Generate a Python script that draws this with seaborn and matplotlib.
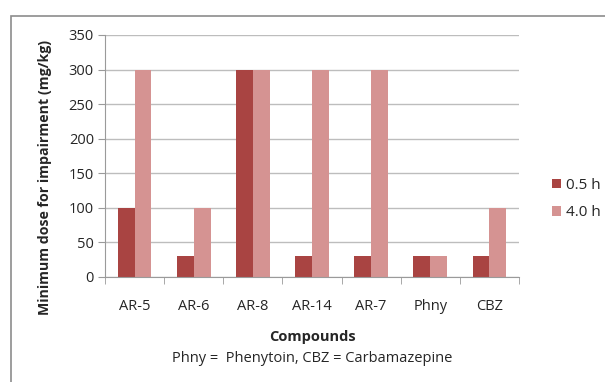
import numpy as np
import pandas as pd
import matplotlib
matplotlib.use("Agg")
import matplotlib.pyplot as plt
import seaborn as sns
from matplotlib.patches import Rectangle

# data
compounds = ["AR-5", "AR-6", "AR-8", "AR-14", "AR-7", "Phny", "CBZ"]
dose_05h = [100, 30, 300, 30, 30, 30, 30]
dose_40h = [300, 100, 300, 300, 300, 30, 100]
series_names = ["0.5 h", "4.0 h"]
y_ticks = [0, 50, 100, 150, 200, 250, 300, 350]

df = pd.DataFrame({
    "Compound": compounds * 2,
    "Dose": dose_05h + dose_40h,
    "Time": [series_names[0]] * len(compounds) + [series_names[1]] * len(compounds),
})

sns.set_style("white")
plt.rcParams["font.family"] = ["Open Sans", "DejaVu Sans"]

fig = plt.figure(figsize=(6.05, 3.82), dpi=100)
ax = fig.add_axes([105 / 605, 1 - 277 / 382, 414 / 605, 242 / 382])

# outer chart frame
fig.patches.append(Rectangle((11 / 605, -0.05), 1.2, 1 - 16 / 382 + 0.05,
                             transform=fig.transFigure, fill=False,
                             edgecolor="#8c8c8c", linewidth=1.2))

sns.barplot(data=df, x="Compound", y="Dose", hue="Time", ax=ax,
            palette=["#A94442", "#D59392"], width=0.57, gap=0,
            saturation=1, linewidth=0)

ax.set_ylim(0, 350)
ax.set_yticks(y_ticks)
ax.yaxis.grid(True, color="#bdbdbd", linewidth=1)
ax.set_axisbelow(True)
for s in ["top", "right"]:
    ax.spines[s].set_visible(False)
for s in ["left", "bottom"]:
    ax.spines[s].set_color("#9a9a9a")
ax.tick_params(axis="y", length=5, color="#9a9a9a", labelsize=10.5, pad=3, left=True)
ax.tick_params(axis="x", length=0, labelsize=10.5, pad=16)
ax.set_xticks(np.arange(len(compounds) + 1) - 0.5, minor=True)
ax.tick_params(axis="x", which="minor", length=5, color="#9a9a9a", bottom=True)
ax.set_xlim(-0.5, len(compounds) - 0.5)

ax.set_ylabel("")
ax.set_xlabel("")
fig.text(45 / 605, 1 - 177 / 382, "Minimum dose for impairment (mg/kg)", rotation=90,
         ha="center", va="center", fontsize=10.2, fontweight="bold")
fig.text(312 / 605, 1 - 337 / 382, "Compounds", ha="center", va="center",
         fontsize=10.5, fontweight="bold")
fig.text(312 / 605, 1 - 358 / 382, "Phny =  Phenytoin, CBZ = Carbamazepine",
         ha="center", va="center", fontsize=10.5)

ax.legend(loc="center left", bbox_to_anchor=(538 / 605, 1 - 199 / 382),
          bbox_transform=fig.transFigure, frameon=False, fontsize=11,
          handlelength=0.6, handleheight=0.6, handletextpad=0.3, labelspacing=0.8)

fig.savefig("out.png", dpi=100)
